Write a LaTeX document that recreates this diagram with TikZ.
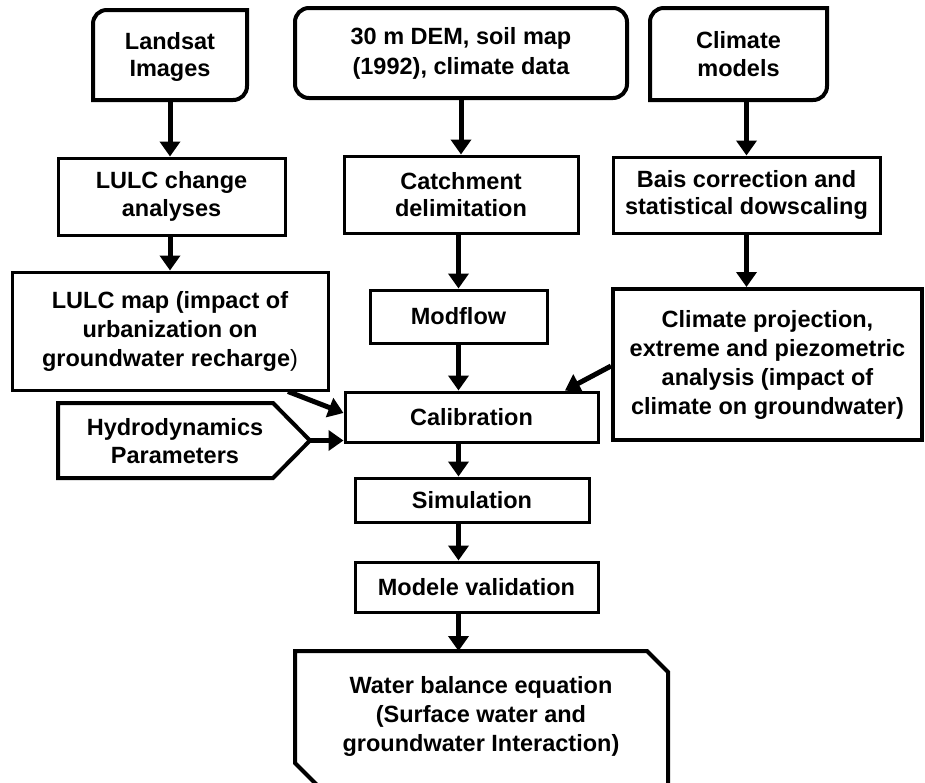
\documentclass[tikz,border=0pt]{standalone}
\usepackage{fontspec}
\setmainfont{Liberation Sans}
\usetikzlibrary{arrows.meta,calc}
\begin{document}
\begin{tikzpicture}[x=1pt,y=-1pt,
  txt/.style={font=\fontsize{23.5}{27.5}\selectfont\bfseries, align=center, inner sep=0pt},
  rbox/.style={txt, draw, line width=3pt, rectangle},
  arr/.style={line width=5pt, -{Triangle[width=20pt,length=15pt]}},
  heavy/.style={line width=4pt, line join=miter}]
\useasboundingbox (0,0) rectangle (925,782);
\fill[white] (0,0) rectangle (925,782);
\clip (0,0) rectangle (925,782);

% top row
\draw[heavy] (93,100) -- (93,24) .. controls (93,16) and (99,10) .. (107,10) -- (247,10) -- (247,86) .. controls (247,94) and (241,100) .. (233,100) -- cycle;
\node[txt, minimum width=154pt, minimum height=90pt] (land) at (170,57) {Landsat\\Images};

\node[txt, draw, line width=4pt, rounded corners=14pt, minimum width=332pt, minimum height=90pt, font=\fontsize{23.5}{30}\selectfont\bfseries] (dem) at (461,53) {30 m DEM, soil map\\(1992), climate data};

\draw[heavy] (650,100) -- (650,22) .. controls (650,14) and (656,8) .. (664,8) -- (827,8) -- (827,86) .. controls (827,94) and (821,100) .. (813,100) -- cycle;
\node[txt, minimum width=177pt, minimum height=92pt] (clim) at (738.5,54) {Climate\\models};

% second row
\node[rbox, minimum width=227pt, minimum height=77pt] (lulcc) at (171.5,196.5) {LULC change\\analyses};
\node[rbox, minimum width=234pt, minimum height=77pt] (catch) at (461,194.5) {Catchment\\delimitation};
\node[rbox, minimum width=267pt, minimum height=76pt] (bais) at (746.5,195) {Bais correction and\\statistical dowscaling};

% third row
\node[rbox, minimum width=316pt, minimum height=118pt, font=\fontsize{23.5}{29}\selectfont\bfseries] (lmap) at (170,331) {LULC map (impact of\\urbanization on\\groundwater recharge{\mdseries)}};
\node[rbox, minimum width=177pt, minimum height=53pt] (modf) at (458.5,316.5) {Modflow};
\node[rbox, line width=4pt, minimum width=309pt, minimum height=151pt, font=\fontsize{23.5}{29}\selectfont\bfseries] (cproj) at (767.5,364.5) {Climate projection,\\extreme and piezometric\\analysis (impact of\\climate on groundwater)};

% calibration row
\node[rbox, minimum width=253pt, minimum height=50pt] (cal) at (471.5,417) {Calibration};
\draw[heavy] (58,403) -- (273,403) -- (310,440.5) -- (273,478) -- (58,478) -- cycle;
\coordinate (hydtip) at (310,440.5);
\node[txt] (hyd) at (175,441) {Hydrodynamics\\Parameters};

\node[rbox, minimum width=234pt, minimum height=44pt] (sim) at (472,500) {Simulation};
\node[rbox, minimum width=243pt, minimum height=50pt] (val) at (476.5,587) {Modele validation};

% water balance
\draw[heavy] (295,651) -- (647,651) -- (668,672) -- (668,800) -- (332,800) -- (295,763) -- cycle;
\coordinate (wtop) at (458.5,651);
\node[txt, font=\fontsize{23.5}{29}\selectfont\bfseries] (water) at (481,716) {Water balance equation\\(Surface water and\\groundwater Interaction)};

% connectors
\draw[arr] (land.south) -- (land.south |- lulcc.north);
\draw[arr] (lulcc.south -| lmap.north) -- (lmap.north);
\draw[arr] (dem.south) -- (catch.north);
\draw[arr] (catch.south -| modf.north) -- (modf.north);
\draw[arr] (modf.south) -- (modf.south |- cal.north);
\draw[arr] (clim.south -| bais.north) -- (bais.north);
\draw[arr] (bais.south) -- (bais.south |- cproj.north);
\draw[arr] ([xshift=118pt]lmap.south) -- ([yshift=4pt]cal.west);
\draw[arr] (hydtip) -- (hydtip -| cal.west);
\draw[arr] ([yshift=-1.5pt]cproj.west) -- ([xshift=93.5pt]cal.north);
\draw[arr] (cal.south -| modf.south) -- (sim.north -| modf.south);
\draw[arr] (sim.south -| modf.south) -- (val.north -| modf.south);
\draw[arr] (val.south -| modf.south) -- (wtop);
\end{tikzpicture}
\end{document}
